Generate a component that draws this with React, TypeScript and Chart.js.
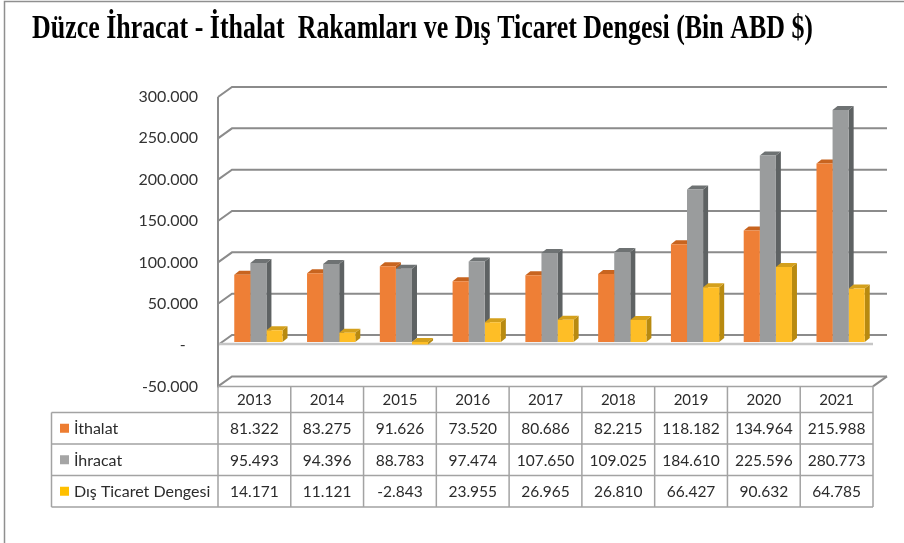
import React, { useEffect, useRef } from 'react';
import { Chart, registerables } from 'chart.js';

Chart.register(...registerables);

const TITLE = 'Düzce İhracat - İthalat  Rakamları ve Dış Ticaret Dengesi (Bin ABD $)';
const years = ['2013', '2014', '2015', '2016', '2017', '2018', '2019', '2020', '2021'];
const ithalat = [81322, 83275, 91626, 73520, 80686, 82215, 118182, 134964, 215988];
const ihracat = [95493, 94396, 88783, 97474, 107650, 109025, 184610, 225596, 280773];
const denge = [14171, 11121, -2843, 23955, 26965, 26810, 66427, 90632, 64785];
const seriesNames = ['İthalat', 'İhracat', 'Dış Ticaret Dengesi'];
const Y_MIN = -50000;
const Y_MAX = 300000;
const Y_STEP = 50000;

const frontColors = ['#EE7F36', '#9A9C9D', '#FEBE26'];
const sideColors = ['#B35A1C', '#5E6263', '#B88A10'];
const topColors = ['#C8641F', '#6E7273', '#D4A01C'];
const keyColors = ['#ED7D31', '#A5A5A5', '#FFC000'];

const DX = 14, DY = -10; // wall depth
const BDX = 5, BDY = -4; // bar depth
const SX = 4, SY = -3; // bar placement inside depth

function fmt(v: number): string {
  const s = Math.abs(Math.round(v)).toString().replace(/\B(?=(\d{3})+(?!\d))/g, '.');
  return (v < 0 ? '-' : '') + s;
}

const depthPlugin = {
  id: 'depth3d',
  beforeDatasetsDraw(chart: any) {
    const { ctx, chartArea: ca, scales } = chart;
    const y = scales.y;
    ctx.save();
    ctx.strokeStyle = '#8b8b8b';
    ctx.lineWidth = 2;
    for (let v = Y_MIN; v <= Y_MAX; v += Y_STEP) {
      const yf = y.getPixelForValue(v);
      ctx.beginPath();
      ctx.moveTo(ca.left, yf);
      ctx.lineTo(ca.left + DX, yf + DY);
      ctx.lineTo(ca.right + DX, yf + DY);
      ctx.stroke();
    }
    ctx.beginPath();
    ctx.moveTo(ca.left, y.getPixelForValue(Y_MAX));
    ctx.lineTo(ca.left, y.getPixelForValue(Y_MIN) + 1);
    ctx.stroke();
    const yb = y.getPixelForValue(Y_MIN);
    ctx.beginPath();
    ctx.moveTo(ca.right, yb);
    ctx.lineTo(ca.right + DX, yb + DY);
    ctx.stroke();
    const y0 = y.getPixelForValue(0);
    ctx.strokeStyle = '#c6c6c6';
    ctx.lineWidth = 2.5;
    ctx.beginPath();
    ctx.moveTo(ca.left + 1, y0 - 1);
    ctx.lineTo(ca.right, y0 - 1);
    ctx.stroke();
    ctx.restore();

    ctx.save();
    ctx.translate(SX, SY);
    // side and top faces of every bar, in series order, before the front faces
    for (let i = 0; i < chart.data.datasets.length; i++) {
      const meta = chart.getDatasetMeta(i);
      meta.data.forEach((el: any) => {
        const p = el.getProps(['x', 'y', 'base', 'width'], true);
        const l = p.x - p.width / 2;
        const r = p.x + p.width / 2;
        const top = Math.min(p.y, p.base);
        const bot = Math.max(p.y, p.base);
        ctx.fillStyle = sideColors[i];
        ctx.beginPath();
        ctx.moveTo(r, top);
        ctx.lineTo(r + BDX, top + BDY);
        ctx.lineTo(r + BDX, bot + BDY);
        ctx.lineTo(r, bot);
        ctx.closePath();
        ctx.fill();
        ctx.fillStyle = topColors[i];
        ctx.beginPath();
        ctx.moveTo(l, top);
        ctx.lineTo(l + BDX, top + BDY);
        ctx.lineTo(r + BDX, top + BDY);
        ctx.lineTo(r, top);
        ctx.closePath();
        ctx.fill();
      });
    }
  },
  afterDatasetsDraw(chart: any) {
    chart.ctx.restore();
  },
};

const tablePlugin = {
  id: 'dataTable',
  afterDraw(chart: any) {
    const { ctx, chartArea: ca, scales } = chart;
    const xs = scales.x;
    const n = years.length;
    const cw = (ca.right - ca.left) / n;
    const top = Math.round(scales.y.getPixelForValue(Y_MIN)) + 0.5;
    const hdrH = 26;
    const rowH = 31.5;
    const leftX = 51.5;
    const right = ca.right;
    const rowsY = [top + hdrH, top + hdrH + rowH, top + hdrH + 2 * rowH, top + hdrH + 3 * rowH];
    ctx.save();
    // frame of the page
    ctx.strokeStyle = '#8f8f8f';
    ctx.lineWidth = 1.5;
    ctx.beginPath();
    ctx.moveTo(904, 1.5);
    ctx.lineTo(4.5, 1.5);
    ctx.lineTo(4.5, 543);
    ctx.stroke();

    // table grid
    ctx.strokeStyle = '#a3a3a3';
    ctx.lineWidth = 1.5;
    ctx.beginPath();
    ctx.moveTo(ca.left, top);
    ctx.lineTo(right, top);
    rowsY.forEach((yy) => {
      ctx.moveTo(leftX, yy);
      ctx.lineTo(right, yy);
    });
    for (let k = 0; k <= n; k++) {
      const xx = ca.left + k * cw;
      ctx.moveTo(xx, top);
      ctx.lineTo(xx, rowsY[3]);
    }
    ctx.moveTo(leftX, rowsY[0]);
    ctx.lineTo(leftX, rowsY[3]);
    ctx.stroke();

    // text
    ctx.fillStyle = '#2b2b2b';
    ctx.textAlign = 'center';
    ctx.textBaseline = 'middle';
    ctx.font = '15px Lato';
    years.forEach((yr, k) => {
      const cx = xs.getPixelForValue(k);
      ctx.fillText(yr, cx, top + hdrH / 2 + 1);
    });
    const series = [ithalat, ihracat, denge];
    series.forEach((arr, s) => {
      const cy = rowsY[s] + rowH / 2 + 1;
      ctx.font = '15.5px Lato';
      ctx.textAlign = 'center';
      arr.forEach((v, k) => {
        ctx.fillText(fmt(v), xs.getPixelForValue(k), cy);
      });
      ctx.fillStyle = keyColors[s];
      ctx.fillRect(60, cy - 5.5, 9, 9);
      ctx.fillStyle = '#2b2b2b';
      ctx.textAlign = 'left';
      ctx.font = '16px Lato';
      ctx.fillText(seriesNames[s], 74, cy);
    });

    // title
    ctx.font = 'bold 33px "Liberation Serif"';
    ctx.textAlign = 'left';
    ctx.textBaseline = 'alphabetic';
    ctx.fillStyle = '#000000';
    const w = ctx.measureText(TITLE).width;
    ctx.translate(32, 38);
    ctx.scale(781 / w, 1);
    ctx.fillText(TITLE, 0, 0);
    ctx.restore();
  },
};

export default function App() {
  const ref = useRef<HTMLCanvasElement>(null);
  useEffect(() => {
    document.body.style.margin = '0';
    const canvas = ref.current;
    if (!canvas) return;
    const chart = new Chart(canvas, {
      type: 'bar',
      data: {
        labels: years,
        datasets: [
          { label: seriesNames[0], data: ithalat, backgroundColor: frontColors[0] },
          { label: seriesNames[1], data: ihracat, backgroundColor: frontColors[1] },
          { label: seriesNames[2], data: denge, backgroundColor: frontColors[2] },
        ],
      },
      options: {
        responsive: false,
        animation: false,
        devicePixelRatio: 1,
        layout: { padding: { left: 0, right: 31, top: 97, bottom: 156.6 } },
        datasets: { bar: { barPercentage: 1, categoryPercentage: 0.663, borderWidth: 0 } },
        plugins: { legend: { display: false }, tooltip: { enabled: false }, title: { display: false } },
        scales: {
          x: { display: false, offset: true },
          y: {
            min: Y_MIN,
            max: Y_MAX,
            grid: { display: false, drawTicks: false },
            border: { display: false },
            ticks: {
              stepSize: Y_STEP,
              padding: 20,
              color: '#333333',
              font: { family: 'Lato', size: 16 },
              callback: (v: any) => (Number(v) === 0 ? '-   ' : fmt(Number(v))),
            },
            afterFit: (s: any) => {
              s.width = 218;
            },
          },
        },
      } as any,
      plugins: [depthPlugin, tablePlugin],
    });
    return () => chart.destroy();
  }, []);
  return <canvas ref={ref} width={904} height={543} style={{ display: 'block' }} />;
}
